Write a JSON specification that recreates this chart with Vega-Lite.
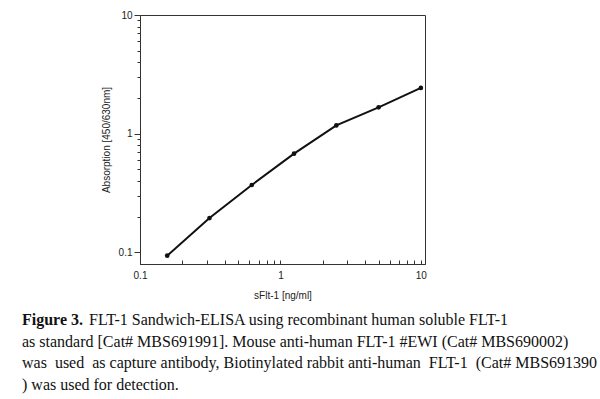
{
  "$schema": "https://vega.github.io/schema/vega-lite/v6.json",
  "width": 285,
  "height": 249,
  "autosize": "none",
  "padding": {"left": 140, "top": 15, "right": 175, "bottom": 135},
  "background": "white",
  "config": {
    "view": {"stroke": "#333", "strokeWidth": 1},
    "axis": {
      "domainColor": "#333",
      "tickColor": "#333",
      "labelFont": "Liberation Sans",
      "labelFontSize": 10,
      "labelColor": "#222",
      "titleFont": "Liberation Sans",
      "titleFontSize": 10,
      "titleFontWeight": "normal",
      "titleColor": "#222",
      "grid": false,
      "labelFlush": false,
      "labelOverlap": false
    }
  },
  "datasets": {
    "curve": [
      {"conc": 0.15625, "abs": 0.094},
      {"conc": 0.3125, "abs": 0.195},
      {"conc": 0.625, "abs": 0.37},
      {"conc": 1.25, "abs": 0.68},
      {"conc": 2.5, "abs": 1.175},
      {"conc": 5, "abs": 1.67},
      {"conc": 10, "abs": 2.43}
    ],
    "caption": [
      {"line": 1, "part": "head", "text": "Figure 3."},
      {"line": 1, "part": "first", "text": "FLT-1 Sandwich-ELISA using recombinant human soluble FLT-1"},
      {"line": 2, "part": "body", "text": "as standard [Cat# MBS691991]. Mouse anti-human FLT-1 #EWI (Cat# MBS690002)"},
      {"line": 3, "part": "body", "text": "was \u00a0used \u00a0as capture antibody, Biotinylated rabbit anti-human \u00a0FLT-1 \u00a0(Cat# MBS691390"},
      {"line": 4, "part": "body", "text": ") was used for detection."}
    ]
  },
  "layer": [
    {
      "data": {"name": "curve"},
      "encoding": {
        "x": {
          "field": "conc",
          "type": "quantitative",
          "scale": {"type": "log", "domain": [0.1, 10.7], "nice": false},
          "axis": {
            "title": "sFlt-1 [ng/ml]",
            "values": [0.1, 0.2, 0.3, 0.4, 0.5, 0.6, 0.7, 0.8, 0.9, 1, 2, 3, 4, 5, 6, 7, 8, 9, 10],
            "format": "~g",
            "labelExpr": "(datum.value == 0.1 || datum.value == 1 || datum.value == 10) ? datum.label : ''",
            "tickSize": -4,
            "labelPadding": 10,
            "titlePadding": 10
          }
        },
        "y": {
          "field": "abs",
          "type": "quantitative",
          "scale": {"type": "log", "domain": [0.08, 10], "nice": false},
          "axis": {
            "title": "Absorption [450/630nm]",
            "values": [0.1, 0.2, 0.3, 0.4, 0.5, 0.6, 0.7, 0.8, 0.9, 1, 2, 3, 4, 5, 6, 7, 8, 9, 10],
            "format": "~g",
            "labelExpr": "(datum.value == 0.1 || datum.value == 1 || datum.value == 10) ? datum.label : ''",
            "tickSize": {"condition": {"test": "datum.value == 0.1 || datum.value == 1 || datum.value == 10", "value": 6}, "value": 3},
            "labelPadding": 2,
            "titlePadding": 7
          }
        }
      },
      "layer": [
        {"mark": {"type": "line", "color": "#111", "strokeWidth": 2}},
        {"mark": {"type": "point", "filled": true, "color": "#111", "size": 22, "opacity": 1}}
      ]
    },
    {
      "data": {"name": "caption"},
      "encoding": {
        "x": {"datum": 0, "type": "quantitative", "scale": {"domain": [118, 403], "nice": false, "zero": false}, "axis": null},
        "y": {"field": "line", "type": "quantitative", "scale": {"domain": [-13.31, -1.82], "nice": false, "zero": false, "reverse": true}, "axis": null},
        "text": {"field": "text"}
      },
      "layer": [
        {
          "transform": [{"filter": "datum.part == 'head'"}],
          "mark": {"type": "text", "align": "left", "baseline": "alphabetic", "font": "Liberation Serif", "fontSize": 16, "fontWeight": "bold", "color": "#111"}
        },
        {
          "transform": [{"filter": "datum.part == 'first'"}],
          "mark": {"type": "text", "align": "left", "baseline": "alphabetic", "font": "Liberation Serif", "fontSize": 16, "color": "#111", "dx": 67}
        },
        {
          "transform": [{"filter": "datum.part == 'body'"}],
          "mark": {"type": "text", "align": "left", "baseline": "alphabetic", "font": "Liberation Serif", "fontSize": 16, "color": "#111"}
        }
      ]
    }
  ],
  "resolve": {"scale": {"x": "independent", "y": "independent"}, "axis": {"x": "independent", "y": "independent"}}
}
